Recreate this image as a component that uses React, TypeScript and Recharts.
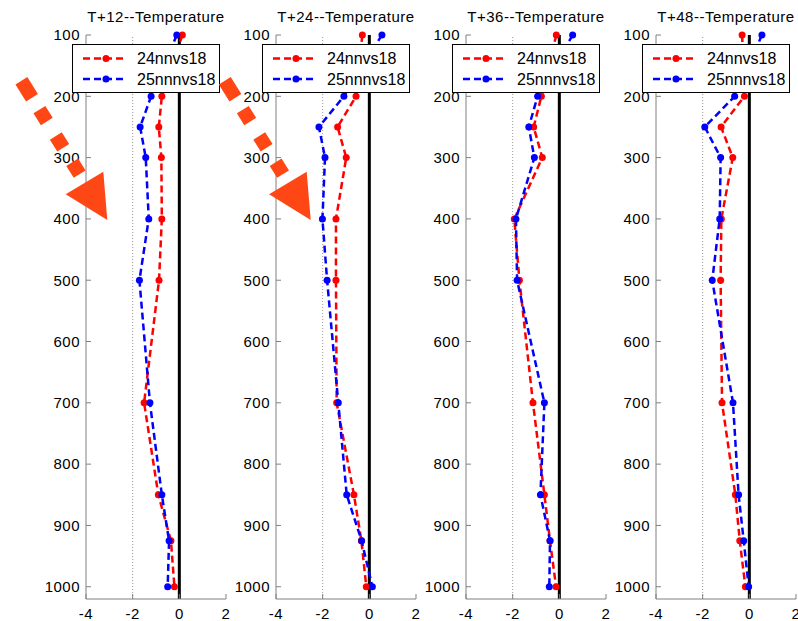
import { Legend, Line, LineChart, ReferenceLine, XAxis, YAxis } from 'recharts'

const levels = [100, 200, 250, 300, 400, 500, 700, 850, 925, 1000]
const yTicks = [100, 200, 300, 400, 500, 600, 700, 800, 900, 1000]
const xTicks = [-4, -2, 0, 2]
const seriesNames = ['24nnvs18', '25nnnvs18']
const seriesColors = ['#ff0000', '#0000ff']
const panelTitles = ['T+12--Temperature', 'T+24--Temperature', 'T+36--Temperature', 'T+48--Temperature']

// temperature difference at each level, per forecast step
const red12 = [0.13, -0.75, -0.88, -0.77, -0.75, -0.87, -1.51, -0.9, -0.36, -0.21]
const blue12 = [-0.11, -1.21, -1.68, -1.44, -1.31, -1.71, -1.26, -0.75, -0.44, -0.5]
const red24 = [-0.3, -0.57, -1.36, -0.99, -1.43, -1.43, -1.4, -0.66, -0.34, -0.13]
const blue24 = [0.54, -1.09, -2.16, -1.9, -2.01, -1.81, -1.33, -0.97, -0.33, 0.13]
const red36 = [-0.13, -0.77, -1.1, -0.73, -1.93, -1.71, -1.13, -0.64, -0.4, -0.14]
const blue36 = [0.57, -0.93, -1.31, -1.07, -1.86, -1.81, -0.64, -0.81, -0.4, -0.43]
const red48 = [-0.31, -0.21, -1.21, -0.71, -1.2, -1.23, -1.17, -0.6, -0.41, -0.17]
const blue48 = [0.54, -0.63, -1.91, -1.23, -1.27, -1.59, -0.7, -0.46, -0.24, -0.03]

const panels = [
  { title: panelTitles[0], red: red12, blue: blue12, left: 86 },
  { title: panelTitles[1], red: red24, blue: blue24, left: 276 },
  { title: panelTitles[2], red: red36, blue: blue36, left: 466 },
  { title: panelTitles[3], red: red48, blue: blue48, left: 656 },
]

const font = '"Liberation Sans", Arial, sans-serif'
const axisGray = '#808080'
const arrowColor = '#ff4716'

function LegendBox() {
  return (
    <svg width={148} height={49} style={{ display: 'block' }}>
      <rect x={0.5} y={0.5} width={147} height={48} fill="#fff" stroke="#000" />
      {seriesNames.map((name, i) => {
        const y = i === 0 ? 14.5 : 35
        return (
          <g key={name}>
            <line x1={11} x2={55} y1={y} y2={y} stroke={seriesColors[i]} strokeWidth={2.5} strokeDasharray="7 4" />
            <circle cx={34} cy={y} r={3.5} fill={seriesColors[i]} />
            <text x={65} y={y} dy="0.36em" fontSize={16} fontFamily={font} fill="#000">{name}</text>
          </g>
        )
      })}
    </svg>
  )
}

function Panel({ title, red, blue, left }: { title: string; red: number[]; blue: number[]; left: number }) {
  const data = levels.map((p, i) => ({ p, a: red[i], b: blue[i] }))
  const tickStyle = { fill: '#000', fontSize: 15, fontFamily: font, letterSpacing: 0.5 }
  return (
    <div style={{ position: 'absolute', left: left - 50, top: 0 }}>
      <div style={{ position: 'absolute', left: 30, top: 8, width: 180, textAlign: 'center', fontFamily: font, fontSize: 15, letterSpacing: 0.5, whiteSpace: 'nowrap' }}>
        {title}
      </div>
      <LineChart layout="vertical" width={200} height={621} data={data} margin={{ top: 35, right: 10, bottom: 0, left: 0 }}>
        <XAxis type="number" domain={[-4, 2]} ticks={xTicks} interval={0} height={22}
          axisLine={{ stroke: axisGray }} tickLine={{ stroke: axisGray }} tickSize={-5} tickMargin={14} tick={tickStyle} />
        <XAxis xAxisId="t" orientation="top" type="number" domain={[-4, 2]} ticks={xTicks} interval={0} height={0}
          axisLine={{ stroke: axisGray }} tickLine={{ stroke: axisGray }} tickSize={-5} tickFormatter={() => ''} />
        <YAxis type="number" dataKey="p" domain={[100, 1020]} ticks={yTicks} interval={0} width={50}
          axisLine={{ stroke: axisGray }} tickLine={{ stroke: axisGray }} tickSize={-5} tickMargin={11} tick={tickStyle} />
        <YAxis yAxisId="r" orientation="right" type="number" domain={[100, 1020]} ticks={yTicks} interval={0} width={0}
          axisLine={{ stroke: axisGray }} tickLine={{ stroke: axisGray }} tickSize={-5} tickFormatter={() => ''} />
        <ReferenceLine x={-2} stroke="#999" strokeDasharray="1 2" />
        <ReferenceLine x={0} stroke="#000" strokeWidth={3} />
        <Line dataKey="a" name={seriesNames[0]} stroke={seriesColors[0]} strokeWidth={2.5} strokeDasharray="7 4"
          dot={{ r: 3.5, fill: seriesColors[0], stroke: 'none', clipDot: false }} activeDot={false} isAnimationActive={false} />
        <Line dataKey="b" name={seriesNames[1]} stroke={seriesColors[1]} strokeWidth={2.5} strokeDasharray="7 4"
          dot={{ r: 3.5, fill: seriesColors[1], stroke: 'none', clipDot: false }} activeDot={false} isAnimationActive={false} />
        <Legend layout="horizontal" verticalAlign="middle" align="center"
          wrapperStyle={{ left: 36, top: 44, width: 148, height: 49 }} content={() => <LegendBox />} />
      </LineChart>
    </div>
  )
}

function Arrow({ dx }: { dx: number }) {
  return (
    <g transform={`translate(${dx},0)`}>
      <line x1={21.4} y1={80.8} x2={79.7} y2={174.2} stroke={arrowColor} strokeWidth={14}
        strokeDasharray="20 14 14 17 14 17 14 100" />
      <polygon points="103.3,171.7 65.7,194.3 107.3,220" fill={arrowColor} />
    </g>
  )
}

export default function App() {
  return (
    <div style={{ position: 'absolute', left: 0, top: 0, width: 798, height: 621, background: '#fff', overflow: 'hidden' }}>
      {panels.map((p) => (
        <Panel key={p.title} {...p} />
      ))}
      <svg width={798} height={621} style={{ position: 'absolute', left: 0, top: 0, pointerEvents: 'none' }}>
        <Arrow dx={0} />
        <Arrow dx={203.4} />
      </svg>
    </div>
  )
}
